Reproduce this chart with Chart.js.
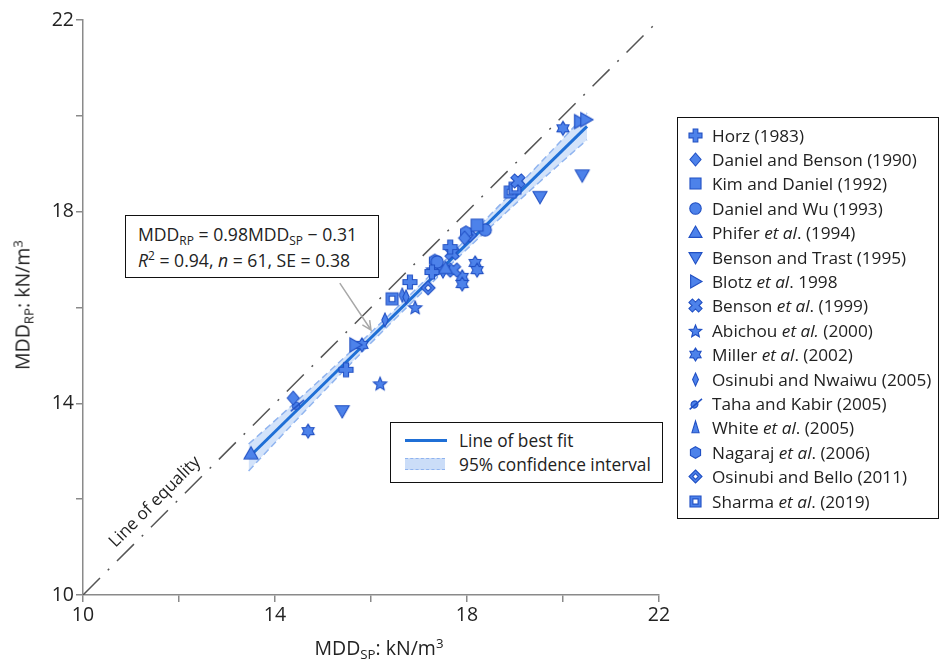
<!DOCTYPE html>
<html><head><meta charset="utf-8">
<script src="https://cdn.jsdelivr.net/npm/chart.js@4/dist/chart.umd.min.js"></script>
<style>
body{margin:0;background:#fff;font-family:"Open Sans","Noto Sans",sans-serif;color:#222}
#wrap{position:relative;width:939px;height:670px;overflow:hidden}
#c{position:absolute;left:0;top:0}
.box{position:absolute;border:1px solid #111;background:#fff;box-sizing:border-box}
sub,sup{font-size:0.68em;line-height:0}
sub{vertical-align:-0.3em}sup{vertical-align:0.55em}
#ann{left:125px;top:215px;width:254px;height:63px;font-size:17.6px;padding:5px 0 0 12px;line-height:26px;white-space:nowrap}
#inleg{left:390px;top:422px;width:273px;height:61px;font-size:17.3px;white-space:nowrap}
#inleg .row{position:absolute;left:14px;height:22px;display:flex;align-items:center}
#rleg{left:677px;top:117px;width:262px;height:402px;font-size:17.2px;padding-top:5px;white-space:nowrap}
#rleg .row{display:flex;align-items:center;height:24.4px;padding-left:8px}
#rleg canvas{margin-right:7px}
.t{position:absolute;font-size:19.5px;white-space:nowrap}
</style></head>
<body><div id="wrap">
<canvas id="c" width="939" height="670"></canvas>
<div class="box" id="ann"><div>MDD<sub>RP</sub> = 0.98MDD<sub>SP</sub> − 0.31</div><div><i>R</i><sup>2</sup> = 0.94, <i>n</i> = 61, SE = 0.38</div></div>
<div class="box" id="inleg">
 <div class="row" style="top:6px"><span style="display:inline-block;width:42px;height:3px;background:#1f6fd6;margin-right:12px"></span>Line of best fit</div>
 <div class="row" style="top:30px"><span style="display:inline-block;width:40px;height:10px;background:rgba(140,180,240,0.45);border-top:1.5px dashed #8fb3ef;border-bottom:1.5px dashed #8fb3ef;margin-right:14px"></span>95% confidence interval</div>
</div>
<div class="box" id="rleg"></div>
<div class="t" id="xt" style="left:0;width:758px;text-align:center;top:634px">MDD<sub>SP</sub>: kN/m<sup>3</sup></div>
<div class="t" id="yt" style="left:22px;top:305px;transform:translate(-50%,-50%) rotate(-90deg)">MDD<sub>RP</sub>: kN/m<sup>3</sup></div>
</div>
<script>
// ---- data ----
const horzX=[15.48,16.81,17.27,17.65], horzY=[14.70,16.53,16.74,17.26];
const danBenX=[14.38,17.95], danBenY=[14.11,17.45];
const kimX=[18.21], kimY=[17.72];
const danWuX=[17.38,18.38], danWuY=[16.95,17.62];
const phiferX=[13.50,17.55], phiferY=[12.95,16.82];
const bensonTrastX=[15.40,17.50,19.52,20.40], bensonTrastY=[13.84,16.76,18.31,18.76];
const blotzX=[15.67,20.35,20.48], blotzY=[15.22,19.88,19.92];
const bensonX=[17.69,17.72,19.06], bensonY=[17.14,16.78,18.64];
const abichouX=[16.19,16.92,17.29], abichouY=[14.42,16.01,16.80];
const millerX=[14.69,15.81,17.90,17.90,18.17,18.21,20.00], millerY=[13.42,15.22,16.64,16.49,16.93,16.78,19.74];
const nwaiwuX=[16.29,16.65,16.73], nwaiwuY=[15.74,16.26,16.22];
const tahaX=[14.46], tahaY=[13.97];
const whiteX=[17.45], whiteY=[16.88];
const nagarajX=[17.33,17.98], nagarajY=[16.98,17.57];
const belloX=[17.19,18.06], belloY=[16.41,17.51];
const sharmaX=[16.44,18.90,19.00], sharmaY=[16.18,18.41,18.49];
const seriesNames=["Horz (1983)","Daniel and Benson (1990)","Kim and Daniel (1992)","Daniel and Wu (1993)","Phifer <i>et al</i>. (1994)","Benson and Trast (1995)","Blotz <i>et al</i>. 1998","Benson <i>et al</i>. (1999)","Abichou <i>et al.</i> (2000)","Miller <i>et al</i>. (2002)","Osinubi and Nwaiwu (2005)","Taha and Kabir (2005)","White <i>et al</i>. (2005)","Nagaraj <i>et al</i>. (2006)","Osinubi and Bello (2011)","Sharma <i>et al</i>. (2019)"];
const fitX=[13.45,20.50], fitY=[12.87,19.78];
const bandX=[13.45,14.5,15.5,16.5,17.5,18.5,19.5,20.5];
const bandUpper=[13.15,14.09,15.01,15.96,16.94,17.95,18.99,20.06];
const bandLower=[12.59,13.71,14.75,15.76,16.74,17.69,18.61,19.50];
const equalityX=[10,21.9], equalityY=[10,21.9];
const xTicks=[10,14,18,22], yTicks=[10,14,18,22];

const FILL='#4d82ea', EDGE='#2150c4';
const seriesX=[horzX,danBenX,kimX,danWuX,phiferX,bensonTrastX,blotzX,bensonX,abichouX,millerX,nwaiwuX,tahaX,whiteX,nagarajX,belloX,sharmaX];
const seriesY=[horzY,danBenY,kimY,danWuY,phiferY,bensonTrastY,blotzY,bensonY,abichouY,millerY,nwaiwuY,tahaY,whiteY,nagarajY,belloY,sharmaY];
const kinds=['plus','diamond','square','circle','triUp','triDown','triRight','x','star5','star6','thinDiamond','taha','thinTri','hex','hollowDiamond','hollowSquare'];

function poly(g,pts,cx,cy,rot){
  g.beginPath();
  pts.forEach((p,i)=>{let x=p[0],y=p[1];if(rot){const c=Math.cos(rot),s=Math.sin(rot);[x,y]=[x*c-y*s,x*s+y*c];}
    i?g.lineTo(cx+x,cy+y):g.moveTo(cx+x,cy+y);});
  g.closePath();
}
function starPts(n,ro,ri){const p=[];for(let i=0;i<2*n;i++){const a=-Math.PI/2+i*Math.PI/n;const r=i%2?ri:ro;p.push([r*Math.cos(a),r*Math.sin(a)]);}return p;}
function marker(kind,s){
  const pad=3,W=s+pad*2,c=document.createElement('canvas');c.width=W;c.height=W;
  const g=c.getContext('2d'),cx=W/2,cy=W/2,r=s/2;
  g.fillStyle=FILL;g.strokeStyle=EDGE;g.lineWidth=1.1;g.lineJoin='miter';
  const a=r*0.36;
  const plus=[[-a,-r],[a,-r],[a,-a],[r,-a],[r,a],[a,a],[a,r],[-a,r],[-a,a],[-r,a],[-r,-a],[-a,-a]];
  switch(kind){
    case 'plus':poly(g,plus,cx,cy);break;
    case 'x':poly(g,plus.map(p=>[p[0]*1.05,p[1]*1.05]),cx,cy,Math.PI/4);break;
    case 'diamond':poly(g,[[0,-r],[r*0.85,0],[0,r],[-r*0.85,0]],cx,cy);break;
    case 'square':{const q=r*0.85;poly(g,[[-q,-q],[q,-q],[q,q],[-q,q]],cx,cy);break;}
    case 'circle':g.beginPath();g.arc(cx,cy,r*0.88,0,Math.PI*2);break;
    case 'triUp':poly(g,[[0,-r],[r,r*0.75],[-r,r*0.75]],cx,cy);break;
    case 'triDown':poly(g,[[0,r],[r,-r*0.75],[-r,-r*0.75]],cx,cy);break;
    case 'triRight':poly(g,[[r,0],[-r*0.75,r],[-r*0.75,-r]],cx,cy);break;
    case 'star5':poly(g,starPts(5,r,r*0.45),cx,cy+1);break;
    case 'star6':poly(g,starPts(6,r,r*0.6),cx,cy);break;
    case 'thinDiamond':poly(g,[[0,-r],[r*0.45,0],[0,r],[-r*0.45,0]],cx,cy);break;
    case 'thinTri':poly(g,[[0,-r],[r*0.55,r*0.8],[-r*0.55,r*0.8]],cx,cy);break;
    case 'hex':poly(g,starPts(3,r*0.9,r*0.9),cx,cy);break;
    case 'taha':g.beginPath();g.ellipse(cx-1,cy+1,r*0.55,r*0.5,-0.6,0,Math.PI*2);break;
    case 'hollowDiamond':poly(g,[[0,-r],[r,0],[0,r],[-r,0]],cx,cy);break;
    case 'hollowSquare':{const q=r*0.85;poly(g,[[-q,-q],[q,-q],[q,q],[-q,q]],cx,cy);break;}
  }
  g.fill();g.stroke();
  if(kind==='taha'){g.beginPath();g.moveTo(cx-r*0.9,cy+r*0.9);g.lineTo(cx+r,cy-r*0.7);g.lineWidth=1.6;g.stroke();}
  if(kind==='hollowDiamond'){const q=r*0.45;poly(g,[[0,-q],[q,0],[0,q],[-q,0]],cx,cy);g.fillStyle='#fff';g.fill();g.stroke();}
  if(kind==='hollowSquare'){const q=r*0.4;poly(g,[[-q,-q],[q,-q],[q,q],[-q,q]],cx,cy);g.fillStyle='#fff';g.fill();g.stroke();}
  return c;
}

// legend (HTML, marker canvases from same factory)
const rleg=document.getElementById('rleg');
seriesNames.forEach((n,i)=>{const row=document.createElement('div');row.className='row';
  row.appendChild(marker(kinds[i],13));const sp=document.createElement('span');sp.innerHTML=n;row.appendChild(sp);rleg.appendChild(row);});

const pts=(xs,ys)=>xs.map((x,i)=>({x,y:ys[i]}));
const datasets=[];
seriesNames.forEach((n,i)=>datasets.push({label:n.replace(/<[^>]+>/g,''),data:pts(seriesX[i],seriesY[i]),pointStyle:marker(kinds[i],14),showLine:false,order:0}));
datasets.push({label:'fit',data:pts(fitX,fitY),showLine:true,borderColor:'#1f6fd6',borderWidth:3,pointRadius:0,order:1});
datasets.push({label:'upper',data:pts(bandX,bandUpper),showLine:true,borderColor:'#8fb3ef',borderWidth:1.5,borderDash:[7,4],pointRadius:0,tension:0.4,fill:'+1',backgroundColor:'rgba(150,188,242,0.42)',order:2});
datasets.push({label:'lower',data:pts(bandX,bandLower),showLine:true,borderColor:'#8fb3ef',borderWidth:1.5,borderDash:[7,4],pointRadius:0,tension:0.4,order:2});
datasets.push({label:'equality',data:pts(equalityX,equalityY),showLine:true,borderColor:'#555',borderWidth:1.5,borderDash:[24,11,2,11],pointRadius:0,order:3});

const extras={id:'extras',afterDatasetsDraw(ch){
  const g=ch.ctx,xs=ch.scales.x,ys=ch.scales.y;
  const px=xs.getPixelForValue(11.72),py=ys.getPixelForValue(11.72);
  const ang=Math.atan2(ys.getPixelForValue(12)-ys.getPixelForValue(11),xs.getPixelForValue(12)-xs.getPixelForValue(11));
  g.save();g.translate(px,py);g.rotate(ang);g.font='17px "Open Sans"';g.fillStyle='#222';g.textAlign='center';g.textBaseline='middle';
  g.fillText('Line of equality',0,-15);g.restore();
  const x0=xs.getPixelForValue(15.35),y0=ys.getPixelForValue(16.51),x1=xs.getPixelForValue(16.0),y1=ys.getPixelForValue(15.53);
  const a=Math.atan2(y1-y0,x1-x0);
  g.save();g.strokeStyle='#a8a8a8';g.lineWidth=1.5;g.beginPath();g.moveTo(x0,y0);g.lineTo(x1,y1);
  g.moveTo(x1-10*Math.cos(a-0.45),y1-10*Math.sin(a-0.45));g.lineTo(x1,y1);g.lineTo(x1-10*Math.cos(a+0.45),y1-10*Math.sin(a+0.45));g.stroke();g.restore();
}};

const axis=(fit)=>({type:'linear',min:10,max:22,
  ticks:{stepSize:2,color:'#222',font:{family:'"Open Sans"',size:19.5},padding:2,maxRotation:0,autoSkip:false,
    callback:v=>((fit==='x'?xTicks:yTicks).includes(v)?String(v):'')},
  grid:{drawOnChartArea:false,drawTicks:true,tickLength:7,color:'#8a8a8a',lineWidth:1.5},
  border:{display:true,color:'#8a8a8a',width:1.5},
  afterFit:s=>{if(fit==='x')s.height=75;else s.width=83;}});

new Chart(document.getElementById('c'),{type:'scatter',data:{datasets},
  options:{responsive:false,animation:false,devicePixelRatio:1,
    layout:{padding:{top:20,right:280,left:0,bottom:0}},
    plugins:{legend:{display:false},tooltip:{enabled:false}},
    scales:{x:axis('x'),y:axis('y')}},
  plugins:[extras]});
</script>
</body></html>
